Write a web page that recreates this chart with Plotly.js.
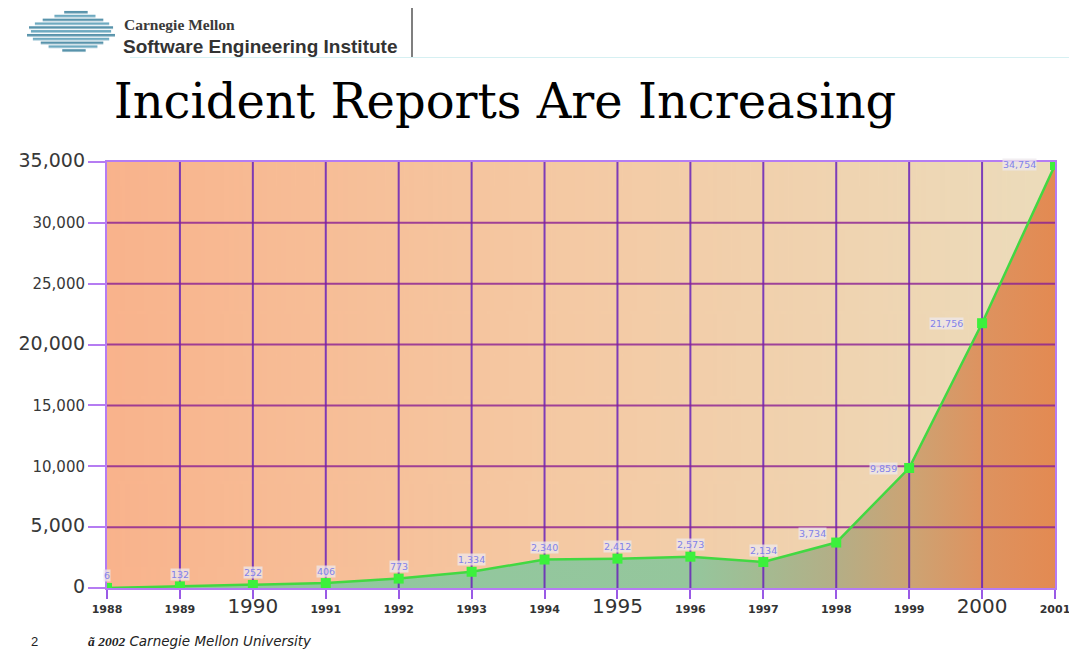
<!DOCTYPE html>
<html>
<head>
<meta charset="utf-8">
<script src="https://cdn.plot.ly/plotly-3.0.1.min.js"></script>
<style>
  html, body { margin: 0; padding: 0; background: #ffffff; }
  #chart { width: 1069px; height: 650px; }
</style>
</head>
<body>
<div id="chart"></div>
<script>
// Incident reports per year
const years = [1988, 1989, 1990, 1991, 1992, 1993, 1994, 1995, 1996, 1997, 1998, 1999, 2000, 2001];
const incidents = [6, 132, 252, 406, 773, 1334, 2340, 2412, 2573, 2134, 3734, 9859, 21756, 34754];

// Axis tick values; some labels are drawn larger
const yTicks = [0, 5000, 10000, 15000, 20000, 25000, 30000, 35000];
const yBigTicks = [0, 5000, 20000, 35000];
const xBigTicks = [1990, 1995, 2000];

// Figure geometry (pixels)
const FIG_W = 1069, FIG_H = 650;
const M = { l: 107, r: 14, t: 162, b: 62 };
const PW = FIG_W - M.l - M.r, PH = FIG_H - M.t - M.b;
const px = x => (x - M.l) / PW;              // pixel x -> paper x
const py = y => (FIG_H - M.b - y) / PH;      // pixel y (from top) -> paper y

const fmt = v => v.toLocaleString('en-US');
const SANS = 'DejaVu Sans, Verdana, sans-serif';

// Background gradient of the plot area
function gradientImage() {
  const c = document.createElement('canvas');
  c.width = 400; c.height = 10;
  const g = c.getContext('2d');
  const lg = g.createLinearGradient(0, 0, 400, 0);
  lg.addColorStop(0, '#f9b38c');
  lg.addColorStop(0.45, '#f5c8a2');
  lg.addColorStop(1, '#ecdcbb');
  g.fillStyle = lg;
  g.fillRect(0, 0, 400, 10);
  return c.toDataURL();
}

// Striped emblem in the header
function emblemImage() {
  const c = document.createElement('canvas');
  c.width = 90; c.height = 46;
  const g = c.getContext('2d');
  const stripes = [
    [38, 62, 2], [28, 70, 6], [16, 78, 10], [8, 84, 14], [2, 88, 18], [4, 86, 22],
    [0, 90, 26], [6, 84, 30], [14, 78, 34], [22, 72, 38], [36, 60, 42]
  ];
  stripes.forEach(([a, b, y], i) => {
    g.fillStyle = i % 2 ? '#6eaac0' : '#5893ab';
    g.fillRect(a, y, b - a, 2.6);
  });
  return c.toDataURL();
}

const yTickText = yTicks.map(v =>
  yBigTicks.includes(v)
    ? `<span style="font-size:19px">${fmt(v)}</span>`
    : `<span style="font-size:15px">${fmt(v)}</span>`);

const xTickText = years.map(v =>
  xBigTicks.includes(v)
    ? `<span style="font-size:20px">${v}</span>`
    : `<span style="font-size:11px;font-weight:bold">${v}</span>`);

// Value labels beside each point
const labelOffsets = years.map(y => {
  if (y === 1998) return [-24, -9];
  if (y === 1999) return [-26, 0];
  if (y >= 2000) return [-36, 0];
  return [0, -12];
});

const valueLabels = years.map((yr, i) => ({
  x: yr, y: incidents[i], xref: 'x', yref: 'y',
  text: fmt(incidents[i]),
  showarrow: true, arrowcolor: 'rgba(0,0,0,0)', arrowwidth: 0.1,
  ax: labelOffsets[i][0], ay: labelOffsets[i][1],
  font: { family: SANS, size: 9.5, color: '#8282ea' },
  bgcolor: 'rgba(238,232,236,0.75)', borderpad: 0
}));

// Area under the series
const area = {
  x: years, y: incidents, type: 'scatter', mode: 'lines',
  line: { width: 0, color: 'rgba(0,0,0,0)' },
  fill: 'tozeroy',
  fillgradient: {
    type: 'horizontal',
    colorscale: [
      [0, '#8fc9a0'], [0.62, '#95c69c'], [0.77, '#b4ae86'],
      [0.85, '#cda373'], [0.92, '#dd9360'], [1, '#e38a52']
    ]
  },
  hoverinfo: 'skip'
};

// Grid lines drawn over the area, under the series line
const innerYears = years.slice(1, -1);
const innerYTicks = yTicks.slice(1, -1);
const vGrid = {
  x: innerYears.flatMap(v => [v, v, null]),
  y: innerYears.flatMap(() => [0, 35000, null]),
  type: 'scatter', mode: 'lines', hoverinfo: 'skip',
  line: { color: 'rgba(104,34,186,0.85)', width: 2 }
};
const hGrid = {
  x: innerYTicks.flatMap(() => [1988, 2001, null]),
  y: innerYTicks.flatMap(v => [v, v, null]),
  type: 'scatter', mode: 'lines', hoverinfo: 'skip',
  line: { color: 'rgba(138,30,148,0.8)', width: 2 }
};

const series = {
  x: years, y: incidents, type: 'scatter', mode: 'lines+markers',
  line: { color: '#42d842', width: 2.5 },
  marker: { symbol: 'square', size: 10, color: '#3cf03c' },
  hoverinfo: 'skip'
};

const layout = {
  width: FIG_W, height: FIG_H,
  margin: M,
  paper_bgcolor: '#ffffff', plot_bgcolor: 'rgba(0,0,0,0)',
  showlegend: false,
  font: { family: SANS, color: '#333333' },
  title: {
    text: 'Incident Reports Are Increasing',
    font: { family: 'DejaVu Serif, serif', size: 48, color: '#000000' },
    x: 505 / FIG_W, xanchor: 'center', xref: 'container',
    y: 1 - 101 / FIG_H, yanchor: 'middle', yref: 'container'
  },
  xaxis: {
    range: [1988, 2001], tickmode: 'array', tickvals: years, ticktext: xTickText,
    showgrid: false, layer: 'above traces', ticklabeloverflow: 'allow',
    ticks: 'outside', ticklen: 9, tickwidth: 2, tickcolor: '#9a5ae6',
    showline: true, linecolor: '#b57cf2', linewidth: 2, mirror: true,
    zeroline: false, tickfont: { family: SANS, size: 11, color: '#333333' }, ticklabelstandoff: 1
  },
  yaxis: {
    range: [0, 35000], tickmode: 'array', tickvals: yTicks, ticktext: yTickText,
    showgrid: false, layer: 'above traces',
    ticks: 'outside', ticklen: 17, tickwidth: 2, tickcolor: '#b57cf2',
    showline: true, linecolor: '#b57cf2', linewidth: 2, mirror: true,
    zeroline: false, tickfont: { family: SANS, size: 15, color: '#383838' }, ticklabelstandoff: 0
  },
  images: [
    {
      source: gradientImage(), xref: 'paper', yref: 'paper',
      x: 0, y: 1, sizex: 1, sizey: 1, sizing: 'stretch', layer: 'below',
      xanchor: 'left', yanchor: 'top'
    },
    {
      source: emblemImage(), xref: 'paper', yref: 'paper',
      x: px(27), y: py(9), sizex: 88 / PW, sizey: 44 / PH, sizing: 'stretch',
      xanchor: 'left', yanchor: 'top', layer: 'above'
    }
  ],
  shapes: [
    { type: 'line', xref: 'paper', yref: 'paper', x0: px(412), x1: px(412), y0: py(8), y1: py(57),
      line: { color: '#555555', width: 1.5 } },
    { type: 'line', xref: 'paper', yref: 'paper', x0: px(130), x1: px(1069), y0: py(57.5), y1: py(57.5),
      line: { color: '#d6f0f2', width: 1 } }
  ],
  annotations: valueLabels.concat([
    { xref: 'paper', yref: 'paper', x: px(122), y: py(25), xanchor: 'left', yanchor: 'middle',
      text: '<b>Carnegie Mellon</b>', showarrow: false,
      font: { family: 'Liberation Serif, Times New Roman, serif', size: 15.5, color: '#3a3a3a' } },
    { xref: 'paper', yref: 'paper', x: px(121), y: py(46), xanchor: 'left', yanchor: 'middle',
      text: '<b>Software Engineering Institute</b>', showarrow: false,
      font: { family: 'Liberation Sans, Arial, sans-serif', size: 19, color: '#333333' } },
    { xref: 'paper', yref: 'paper', x: px(29), y: py(641), xanchor: 'left', yanchor: 'middle',
      text: '2', showarrow: false,
      font: { family: 'Liberation Sans, Arial, sans-serif', size: 13, color: '#222222' } },
    { xref: 'paper', yref: 'paper', x: px(86), y: py(641), xanchor: 'left', yanchor: 'middle',
      text: '<b><i><span style="font-family:Liberation Serif, serif">ã 2002</span></i></b><i> Carnegie Mellon University</i>',
      showarrow: false,
      font: { family: SANS, size: 13.5, color: '#222222' } }
  ])
};

Plotly.newPlot('chart', [area, vGrid, hGrid, series], layout, { staticPlot: true, displayModeBar: false });
</script>
</body>
</html>
